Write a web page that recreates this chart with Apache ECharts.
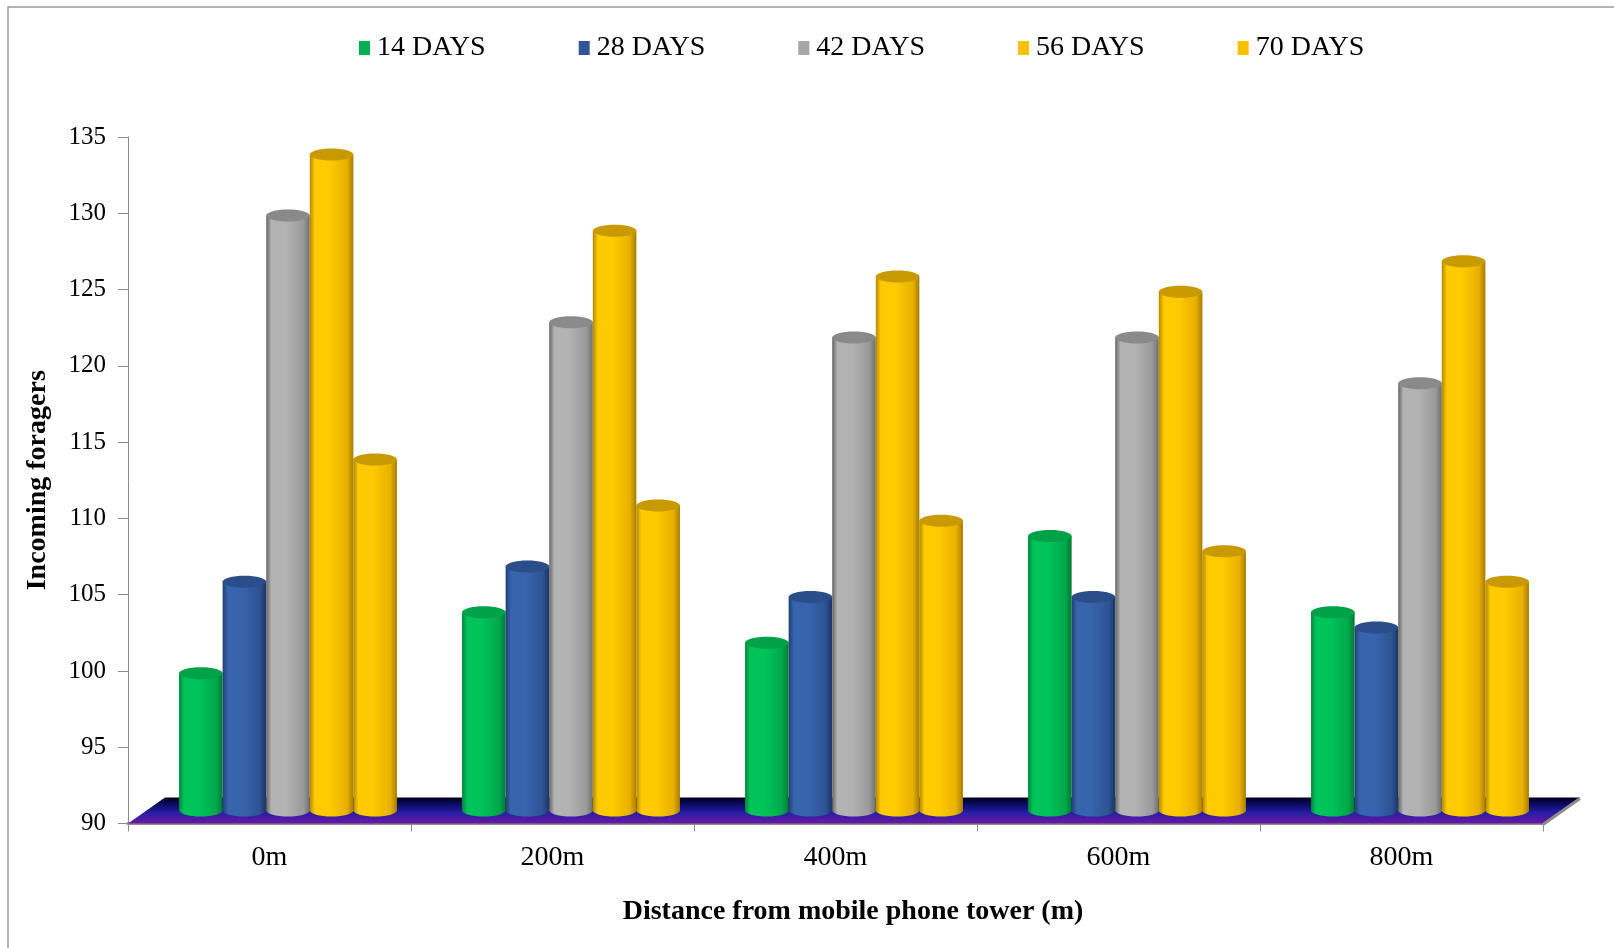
<!DOCTYPE html>
<html>
<head>
<meta charset="utf-8">
<script src="https://cdn.jsdelivr.net/npm/echarts@6/dist/echarts.min.js"></script>
<style>
  html, body { margin: 0; padding: 0; background: #ffffff; }
  #chart { width: 1614px; height: 948px; }
</style>
</head>
<body>
<div id="chart"></div>
<script>
// Incoming foragers per distance from the tower, one series per sampling day
const categories = ['0m', '200m', '400m', '600m', '800m'];
const seriesNames = ['14 DAYS', '28 DAYS', '42 DAYS', '56 DAYS', '70 DAYS'];
const days14 = [99, 103, 101, 108, 103];
const days28 = [105, 106, 104, 104, 102];
const days42 = [129, 122, 121, 121, 118];
const days56 = [133, 128, 125, 124, 126];
const days70 = [113, 110, 109, 107, 105];
const seriesValues = [days14, days28, days42, days56, days70];

const Y_MIN = 90, Y_MAX = 135, Y_STEP = 5;

// Shading for each cylinder: [left edge, highlight, right shade, right edge], cap, legend swatch
const palettes = [
  { stops: ['#00873b', '#00c45a', '#00a84b', '#007a34'], cap: '#00a248', base: '#00B050' },
  { stops: ['#213f72', '#3864ad', '#2d5394', '#1c3562'], cap: '#2b4d8a', base: '#2F5597' },
  { stops: ['#666666', '#b3b3b3', '#9a9a9a', '#6f6f6f'], cap: '#8a8a8a', base: '#A6A6A6' },
  { stops: ['#b58900', '#ffcb00', '#e8b000', '#a87d00'], cap: '#c99a00', base: '#FFC000' },
  { stops: ['#b58900', '#ffcb00', '#e8b000', '#a87d00'], cap: '#c99a00', base: '#FFC000' }
];

// 3D depth of the floor (pixels back and up)
const DEPTH_X = 37, DEPTH_Y = 26;
const BAR_RATIO = 0.154;
const CAP_RY = 6;

function bodyGradient(p) {
  return new echarts.graphic.LinearGradient(0, 0, 1, 0, [
    { offset: 0, color: p.stops[0] },
    { offset: 0.12, color: p.stops[1] },
    { offset: 0.45, color: p.stops[1] },
    { offset: 0.85, color: p.stops[2] },
    { offset: 1, color: p.stops[3] }
  ]);
}

function cylinderRenderer(idx) {
  const p = palettes[idx];
  return function (params, api) {
    const cat = api.value(0);
    const val = api.value(1);
    const band = api.size([1, 0])[0];
    const bw = band * BAR_RATIO;
    const top = api.coord([cat, val]);
    const base = api.coord([cat, Y_MIN]);
    const cx = top[0] + (idx - 2) * bw + DEPTH_X / 2;
    const ty = top[1] - DEPTH_Y / 2;
    const by = base[1] - DEPTH_Y / 2;
    return {
      type: 'group',
      children: [
        { type: 'ellipse', shape: { cx: cx, cy: by, rx: bw / 2, ry: CAP_RY }, style: { fill: bodyGradient(p) } },
        { type: 'rect', shape: { x: cx - bw / 2, y: ty, width: bw, height: by - ty }, style: { fill: bodyGradient(p) } },
        { type: 'ellipse', shape: { cx: cx, cy: ty, rx: bw / 2, ry: CAP_RY }, style: { fill: p.cap } }
      ]
    };
  };
}

function floorRenderer(params, api) {
  const cs = params.coordSys;
  const x0 = cs.x, x1 = cs.x + cs.width, y = cs.y + cs.height;
  return {
    type: 'group',
    children: [
      {
        type: 'polygon',
        shape: { points: [[x0, y], [x1, y], [x1 + DEPTH_X, y - DEPTH_Y], [x0 + DEPTH_X, y - DEPTH_Y]] },
        style: {
          fill: new echarts.graphic.LinearGradient(0, 0, 0, 1, [
            { offset: 0, color: '#000018' },
            { offset: 0.25, color: '#0a0a60' },
            { offset: 0.6, color: '#2a1ea6' },
            { offset: 1, color: '#6a16a4' }
          ])
        }
      },
      {
        type: 'polyline',
        shape: { points: [[x1, y + 1], [x1 + DEPTH_X, y - DEPTH_Y + 1]] },
        style: { stroke: '#8c8c8c', lineWidth: 3, fill: null }
      }
    ]
  };
}

const series = [{
  type: 'custom',
  name: 'floor',
  renderItem: floorRenderer,
  data: [[0, Y_MIN]],
  z: 1,
  silent: true
}];

seriesNames.forEach(function (name, i) {
  series.push({
    type: 'custom',
    name: name,
    renderItem: cylinderRenderer(i),
    itemStyle: { color: palettes[i].base },
    encode: { x: 0, y: 1 },
    data: seriesValues[i].map(function (v, k) { return [k, v]; }),
    z: 3
  });
});

const serif = '"Liberation Serif", "Times New Roman", serif';

const chart = echarts.init(document.getElementById('chart'), null, { renderer: 'canvas' });
chart.setOption({
  animation: false,
  backgroundColor: '#ffffff',
  grid: { left: 128, right: 71, top: 137, bottom: 124.5, containLabel: false },
  legend: {
    data: seriesNames,
    left: 354,
    top: 29,
    icon: 'rect',
    itemWidth: 11,
    itemHeight: 14,
    itemGap: 93,
    textStyle: { fontFamily: serif, fontSize: 28, color: '#000', padding: [0, 0, 0, 2] }
  },
  xAxis: {
    type: 'category',
    data: categories,
    axisLine: { show: true, lineStyle: { color: '#8c8c8c', width: 3 } },
    axisTick: { show: true, length: 8, lineStyle: { color: '#8c8c8c', width: 1 } },
    axisLabel: { fontFamily: serif, fontSize: 28, color: '#000', margin: 20 },
    splitLine: { show: false }
  },
  yAxis: {
    type: 'value',
    min: Y_MIN,
    max: Y_MAX,
    interval: Y_STEP,
    name: 'Incoming foragers',
    nameLocation: 'middle',
    nameGap: 76,
    nameTextStyle: { fontFamily: serif, fontSize: 28, fontWeight: 'bold', color: '#000' },
    axisLine: { show: true, lineStyle: { color: '#8c8c8c', width: 1 } },
    axisTick: { show: true, length: 10, lineStyle: { color: '#8c8c8c' } },
    axisLabel: { fontFamily: serif, fontSize: 25, color: '#000', margin: 22 },
    splitLine: { show: false }
  },
  graphic: [
    {
      type: 'rect',
      shape: { x: 8, y: 7, width: 1700, height: 1000 },
      style: { fill: null, stroke: '#9a9a9a', lineWidth: 1.5 },
      silent: true
    },
    {
      type: 'text',
      x: 853,
      y: 912,
      style: {
        text: 'Distance from mobile phone tower (m)',
        fontFamily: serif,
        fontSize: 28,
        fontWeight: 'bold',
        fill: '#000',
        align: 'center',
        verticalAlign: 'middle'
      }
    }
  ],
  series: series
});
</script>
</body>
</html>
